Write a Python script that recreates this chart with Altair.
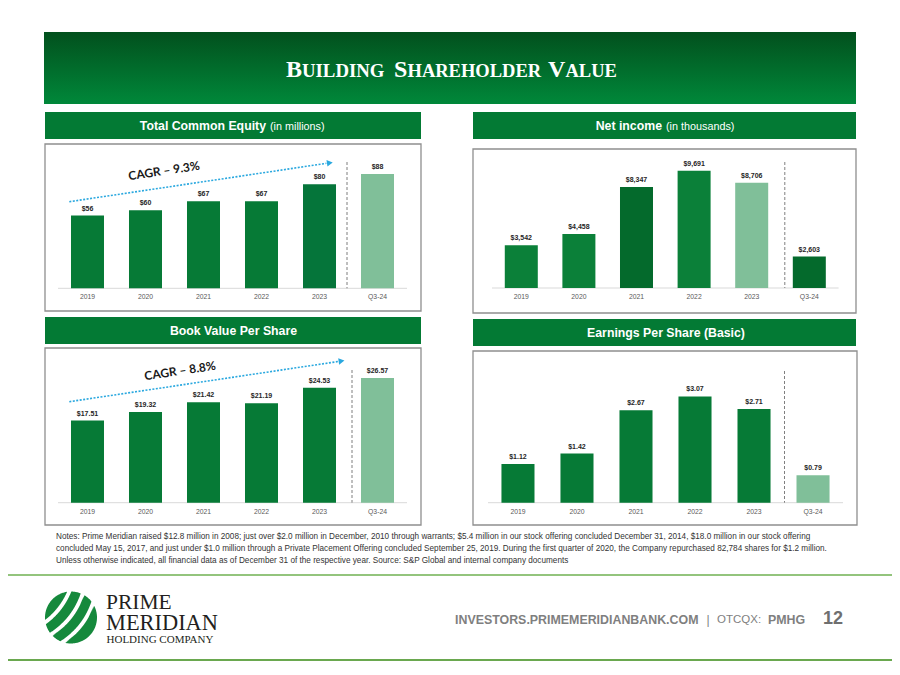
import math
import altair as alt
import pandas as pd

# ---------------- data ----------------
years = ["2019", "2020", "2021", "2022", "2023", "Q3-24"]
equity = [56, 60, 67, 67, 80, 88]                      # $ millions
net_income = [3542, 4458, 8347, 9691, 8706, 2603]       # $ thousands
bvps = [17.51, 19.32, 21.42, 21.19, 24.53, 26.57]       # $
eps = [1.12, 1.42, 2.67, 3.07, 2.71, 0.79]              # $

cagr_equity = "CAGR – 9.3%"
cagr_bvps = "CAGR – 8.8%"

notes = [
    "Notes: Prime Meridian raised $12.8 million in 2008; just over $2.0 million in December, 2010 through warrants; $5.4 million in our stock offering concluded December 31, 2014, $18.0 million in our stock offering",
    "concluded May 15, 2017, and just under $1.0 million through a Private Placement Offering concluded September 25, 2019. During the first quarter of 2020, the Company repurchased 82,784 shares for $1.2 million.",
    "Unless otherwise indicated, all financial data as of December 31 of the respective year. Source: S&P Global and internal company documents",
]

# ---------------- styles ----------------
DG = "#067A36"
LG = "#80BF99"
DK = "#046A2C"
MG = "#0B8039"
colors_equity = [DG, DG, DG, DG, "#05753A", LG]
colors_ni = [MG, MG, DK, MG, LG, DK]
colors_bvps = [DG, DG, DG, DG, DG, LG]
colors_eps = [DG, DG, DG, DG, DG, LG]

SANS = "Liberation Sans, Arial"
SERIF = "Liberation Serif, Times New Roman"

OX, OY = 8, 8


def px(x):
    return x - OX


def py(y):
    return y - OY


one = pd.DataFrame({"k": [0]})


def vrect(x1, y1, x2, y2, **kw):
    return alt.Chart(one).mark_rect(**kw).encode(
        x=alt.value(px(x1)), x2=alt.value(px(x2)), y=alt.value(py(y1)), y2=alt.value(py(y2))
    )


def vtext(x, y, text, **kw):
    return alt.Chart(one).mark_text(**kw).encode(
        x=alt.value(px(x)), y=alt.value(py(y)), text=alt.value(text)
    )


def vrule(x1, y1, x2, y2, **kw):
    return alt.Chart(one).mark_rule(**kw).encode(
        x=alt.value(px(x1)), x2=alt.value(px(x2)), y=alt.value(py(y1)), y2=alt.value(py(y2))
    )


def panel(values, colors, fmt, xr, pad_in, pad_out, ybase, ytop, ymax, label_y, dash_off, dash_top):
    df = pd.DataFrame({"year": years, "value": values})
    xs = alt.Scale(domain=years, range=[px(xr[0]), px(xr[1])], paddingInner=pad_in, paddingOuter=pad_out)
    ys = alt.Scale(domain=[0, ymax], range=[py(ybase), py(ytop)], nice=False, zero=True)
    X = alt.X("year:N", scale=xs, axis=None, sort=years)
    Y = alt.Y("value:Q", scale=ys, axis=None)
    base = alt.Chart(df)
    bars = base.mark_bar().encode(
        x=X, y=Y,
        color=alt.Color("year:N", scale=alt.Scale(domain=years, range=colors), legend=None),
    )
    vals = base.mark_text(baseline="bottom", dy=-4, font=SANS, fontSize=7, fontWeight="bold",
                          color="#262626").encode(x=X, y=Y, text=alt.Text("value:Q", format=fmt))
    labs = base.mark_text(baseline="middle", font=SANS, fontSize=6.8, color="#595959").encode(
        x=X, y=alt.value(py(label_y)), text="year:N")
    dash = alt.Chart(pd.DataFrame({"year": [years[-1]]})).mark_rule(
        strokeDash=[3, 2], color="#7f7f7f", strokeWidth=1, xOffset=dash_off
    ).encode(x=alt.X("year:N", scale=xs, axis=None, bandPosition=0),
             y=alt.value(py(dash_top)), y2=alt.value(py(ybase)))
    baseline = vrule(xr[0], ybase, xr[1], ybase, color="#d9d9d9", strokeWidth=1)
    return alt.layer(baseline, bars, vals, labs, dash)


def cagr(x0, y0, x1, y1, text, tx, ty):
    ang = math.degrees(math.atan2(y0 - y1, x1 - x0))
    ux, uy = math.cos(math.radians(ang)), -math.sin(math.radians(ang))
    lx, ly = x1 - 7 * ux, y1 - 7 * uy
    line = vrule(x0, y0, lx, ly, color="#2AA8DF", strokeWidth=1.6, strokeDash=[2, 1.5])
    head = alt.Chart(one).mark_point(shape="triangle-right", filled=True, size=45, color="#2AA8DF",
                                     opacity=1, angle=360 - ang).encode(
        x=alt.value(px(x1 - 3.5 * ux)), y=alt.value(py(y1 - 3.5 * uy)))
    t = vtext(tx, ty, text, font="Lato, Open Sans", fontSize=12, fontWeight="bold",
              color="#1a1a1a", angle=360 - ang, align="center", baseline="middle")
    return alt.layer(line, head, t)


# logo: unit circle cut into slightly bowed diagonal stripes
def logo_path():
    th = math.radians(52)
    u = (math.cos(th), -math.sin(th))
    n = (math.sin(th), math.cos(th))
    k = 0.18
    bands = [(-2.0, -0.64), (-0.49, -0.11), (0.04, 0.41), (0.56, 2.0)]
    M = 720
    circ = []
    for i in range(M):
        phi = 2 * math.pi * i / M
        x, y = math.cos(phi), math.sin(phi)
        s = x * u[0] + y * u[1]
        t = x * n[0] + y * n[1]
        circ.append((x, y, t + k * s * s))

    def curve(c):
        pts = []
        for i in range(401):
            s = -1 + 2 * i / 400
            t = c - k * s * s
            x, y = t * n[0] + s * u[0], t * n[1] + s * u[1]
            if x * x + y * y <= 1:
                pts.append((x, y))
        return pts

    parts = []
    for a, b in bands:
        inside = [(x, y) for x, y, tp in circ if a <= tp <= b]
        pts = inside + (curve(a) if a > -1.5 else []) + (curve(b) if b < 1.5 else [])
        cx = sum(p[0] for p in pts) / len(pts)
        cy = sum(p[1] for p in pts) / len(pts)
        pts.sort(key=lambda p: math.atan2(p[1] - cy, p[0] - cx))
        pts = pts[::3]
        d = "M" + " L".join(f"{x:.3f},{y:.3f}" for x, y in pts) + " Z"
        parts.append(d)
    return " ".join(parts)


layers = []

# slide header with gradient
grad = {"gradient": "linear", "x1": 0, "y1": 0, "x2": 0, "y2": 1,
        "stops": [{"offset": 0, "color": "#02501D"}, {"offset": 1, "color": "#00883A"}]}
layers.append(vrect(44, 32, 856, 104, fill=grad))
title_kw = dict(font=SERIF, color="white", align="left", baseline="alphabetic", fontWeight="bold")
layers += [
    vtext(286, 77, "B", fontSize=24, **title_kw),
    vtext(302, 77, "UILDING", fontSize=18.8, **title_kw),
    vtext(394, 77, "S", fontSize=24, **title_kw),
    vtext(407.5, 77, "HAREHOLDER", fontSize=18.5, **title_kw),
    vtext(548, 77, "V", fontSize=24, **title_kw),
    vtext(565.5, 77, "ALUE", fontSize=18.5, **title_kw),
]

# panel headers and boxes
HG = "#037A34"
layers += [
    vrect(45, 112, 421, 139, fill=HG),
    vrect(473, 112, 856, 139, fill=HG),
    vrect(45, 317, 421, 344, fill=HG),
    vrect(473, 319, 856, 346, fill=HG),
]
box_kw = dict(fill="white", stroke="#8f8f8f", strokeWidth=1.3)
layers += [
    vrect(45, 144, 421, 311, **box_kw),
    vrect(473, 149, 856, 313, **box_kw),
    vrect(45, 348, 421, 525, **box_kw),
    vrect(473, 351, 857, 525, **box_kw),
]
hb = dict(font=SANS, color="white", fontWeight="bold", fontSize=12.3, baseline="middle")
hr = dict(font=SANS, color="white", fontSize=10.8, baseline="middle")
layers += [
    vtext(266, 126, "Total Common Equity", align="right", **hb),
    vtext(270, 126.5, "(in millions)", align="left", **hr),
    vtext(662, 126, "Net income", align="right", **hb),
    vtext(666, 126.5, "(in thousands)", align="left", **hr),
    vtext(233.5, 331, "Book Value Per Share", align="center", **hb),
    vtext(666, 333, "Earnings Per Share (Basic)", align="center", **hb),
]

# the four bar panels
layers.append(panel(equity, colors_equity, "$,.0f", (58, 407), 0.431, 0.224, 288.3, 158.3, 100, 297, -14, 162))
layers.append(panel(net_income, colors_ni, "$,.0f", (492, 838.6), 0.427, 0.222, 288, 167, 10000, 297, -8, 162))
layers.append(panel(bvps, colors_bvps, "$.2f", (58, 407), 0.431, 0.224, 502.7, 362, 30, 512, -9, 370))
layers.append(panel(eps, colors_eps, "$.2f", (488, 843), 0.44, 0.228, 502.7, 364.3, 4, 512, -12, 371))

# CAGR annotations
layers.append(cagr(69.3, 201.7, 333.3, 162.3, cagr_equity, 164, 171))
layers.append(cagr(69.3, 401.7, 345, 360.5, cagr_bvps, 180, 371))

# notes
for i, line in enumerate(notes):
    layers.append(vtext(56, 537 + 12 * i, line, font=SANS, fontSize=8.2, color="#333333",
                        align="left", baseline="middle"))

# footer
layers.append(vrule(0, 575, 900, 575, color="#93C47D", strokeWidth=2))
layers.append(vrule(0, 660, 900, 660, color="#6AA84F", strokeWidth=2))
layers.append(alt.Chart(one).mark_point(shape=logo_path(), filled=True, size=52 * 52, color="#15893C",
                                        opacity=1, strokeWidth=0).encode(
    x=alt.value(px(71)), y=alt.value(py(617.5))))
lg = dict(font=SERIF, color="#231F20", align="left", baseline="alphabetic")
layers += [
    vtext(106, 609, "PRIME", fontSize=21.5, **lg),
    vtext(106, 629.5, "MERIDIAN", fontSize=22.4, **lg),
    vtext(106.5, 643, "HOLDING COMPANY", fontSize=11, **lg),
]
ft = dict(color="#7f7f7f", baseline="middle", align="left")
layers += [
    vtext(455, 620, "INVESTORS.PRIMEMERIDIANBANK.COM", font=SANS, fontSize=12.4, fontWeight="bold", **ft),
    vtext(706.5, 620, "|", font=SANS, fontSize=12, **ft),
    vtext(717, 620, "OTCQX:", font=SANS, fontSize=11.5, **ft),
    vtext(768, 620, "PMHG", font=SANS, fontSize=12.4, fontWeight="bold", **ft),
    vtext(823, 619, "12", font=SANS, fontSize=18, fontWeight="bold", color="#6f6f6f", baseline="middle", align="left"),
]

chart = alt.layer(*layers).resolve_scale(
    x="independent", y="independent", color="independent"
).properties(
    width=884, height=659, padding=0, background="white",
    autosize=alt.AutoSizeParams(type="none"),
).configure_view(strokeWidth=0)

chart.save("out.html", embed_options={"renderer": "svg", "actions": False})
